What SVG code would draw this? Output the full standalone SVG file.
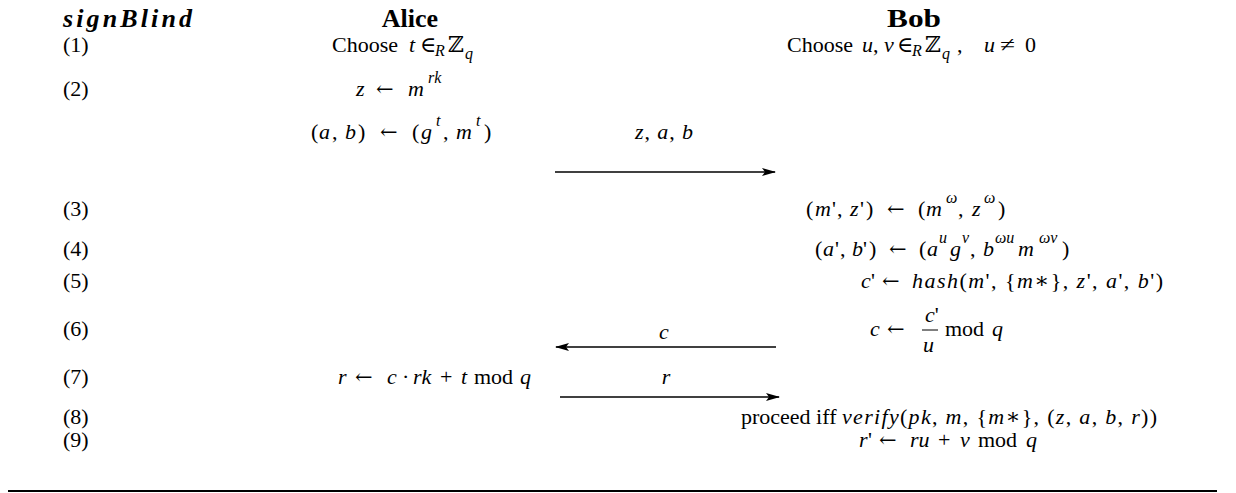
<svg xmlns="http://www.w3.org/2000/svg" width="1236" height="493" viewBox="0 0 1236 493">
<style>
text{font-family:"Liberation Serif","DejaVu Serif",serif;font-size:22px;fill:#000}
.h{font-size:26px;font-weight:bold}
.i{font-style:italic}
.s{font-size:16px}
.ar{font-family:"DejaVu Serif",serif;font-size:21px}
.z{font-family:"DejaVu Serif","Liberation Serif",serif;font-size:22px}
.ln{stroke:#000;stroke-width:1.3;fill:none}
</style>
<defs>
<marker id="ah" viewBox="0 0 14 8" refX="13" refY="4" markerWidth="14" markerHeight="8" markerUnits="userSpaceOnUse" orient="auto">
<path d="M0,0 L14,4 L0,8 L3,4 Z" fill="#000"/>
</marker>
</defs>
<g id="header">
<text class="h i" x="63" y="27" textLength="129" lengthAdjust="spacing">signBlind</text>
<text class="h" x="410" y="27" text-anchor="middle">Alice</text>
<text class="h" x="914" y="27" text-anchor="middle" textLength="54" lengthAdjust="spacingAndGlyphs">Bob</text>
</g>
<g id="labels">
<text x="63" y="52">(1)</text>
<text x="63" y="96">(2)</text>
<text x="63" y="216">(3)</text>
<text x="63" y="256">(4)</text>
<text x="63" y="288">(5)</text>
<text x="63" y="336">(6)</text>
<text x="63" y="384">(7)</text>
<text x="63" y="424">(8)</text>
<text x="63" y="447">(9)</text>
</g>
<g id="alice">
<text y="52"><tspan x="332">Choose</tspan><tspan class="i" x="409">t</tspan><tspan x="420">∈</tspan><tspan class="i s" x="435" y="56">R</tspan><tspan class="z" x="448" y="52">ℤ</tspan><tspan class="i s" x="465" y="59">q</tspan></text>
<text y="96"><tspan class="i" x="356">z</tspan><tspan class="ar" x="376">←</tspan><tspan class="i" x="408">m</tspan><tspan class="i s" x="428" y="83">rk</tspan></text>
<text y="139"><tspan x="311">(</tspan><tspan class="i" x="319">a</tspan><tspan x="332">,</tspan><tspan class="i" x="345">b</tspan><tspan x="358">)</tspan><tspan class="ar" x="380">←</tspan><tspan x="412">(</tspan><tspan class="i" x="421">g</tspan><tspan class="i s" x="436" y="126">t</tspan><tspan x="443" y="139">,</tspan><tspan class="i" x="456">m</tspan><tspan class="i s" x="476" y="126">t</tspan><tspan x="484" y="139">)</tspan></text>
<text y="384"><tspan class="i" x="338">r</tspan><tspan class="ar" x="355">←</tspan><tspan class="i" x="387">c</tspan><tspan x="402">·</tspan><tspan class="i" x="413">rk</tspan><tspan x="440">+</tspan><tspan class="i" x="461">t</tspan><tspan x="474">mod</tspan><tspan class="i" x="520">q</tspan></text>
</g>
<g id="bob">
<text y="52"><tspan x="787">Choose</tspan><tspan class="i" x="862">u</tspan><tspan x="873">,</tspan><tspan class="i" x="884">v</tspan><tspan x="897">∈</tspan><tspan class="i s" x="912" y="56">R</tspan><tspan class="z" x="925" y="52">ℤ</tspan><tspan class="i s" x="942" y="59">q</tspan><tspan x="957" y="52">,</tspan><tspan class="i" x="984">u</tspan><tspan x="1000" textLength="15" lengthAdjust="spacingAndGlyphs">≠</tspan><tspan x="1025">0</tspan></text>
<text y="216"><tspan x="806">(</tspan><tspan class="i" x="815">m</tspan><tspan x="832">'</tspan><tspan x="837">,</tspan><tspan class="i" x="850">z</tspan><tspan x="860">'</tspan><tspan x="866">)</tspan><tspan class="ar" x="887">←</tspan><tspan x="918">(</tspan><tspan class="i" x="926">m</tspan><tspan class="i s" x="946" y="203">ω</tspan><tspan x="958" y="216">,</tspan><tspan class="i" x="972">z</tspan><tspan class="i s" x="984" y="203">ω</tspan><tspan x="998" y="216">)</tspan></text>
<text y="256"><tspan x="815">(</tspan><tspan class="i" x="823">a</tspan><tspan x="835">'</tspan><tspan x="840">,</tspan><tspan class="i" x="852">b</tspan><tspan x="863">'</tspan><tspan x="869">)</tspan><tspan class="ar" x="889">←</tspan><tspan x="919">(</tspan><tspan class="i" x="927">a</tspan><tspan class="i s" x="939" y="243">u</tspan><tspan class="i" x="950" y="256">g</tspan><tspan class="i s" x="962" y="243">v</tspan><tspan x="970" y="256">,</tspan><tspan class="i" x="983">b</tspan><tspan class="i s" x="995" y="243">ωu</tspan><tspan class="i" x="1018" y="256">m</tspan><tspan class="i s" x="1039" y="243">ωv</tspan><tspan x="1062" y="256">)</tspan></text>
<text y="288"><tspan class="i" x="861">c</tspan><tspan x="871">'</tspan><tspan class="ar" x="882">←</tspan><tspan x="912" textLength="251" lengthAdjust="spacing"><tspan class="i">hash</tspan>(<tspan class="i">m</tspan>', {<tspan class="i">m</tspan>∗}, <tspan class="i">z</tspan>', <tspan class="i">a</tspan>', <tspan class="i">b</tspan>')</tspan></text>
<text y="336"><tspan class="i" x="870">c</tspan><tspan class="ar" x="887">←</tspan></text>
<text x="925" y="322"><tspan class="i">c</tspan>'</text>
<line x1="922" y1="330" x2="938" y2="330" stroke="#000" stroke-width="1"/>
<text x="923" y="352" class="i">u</text>
<text y="336"><tspan x="945">mod</tspan><tspan class="i" x="992">q</tspan></text>
<text y="424"><tspan x="741">proceed iff</tspan><tspan x="842" textLength="315" lengthAdjust="spacing"><tspan class="i">verify</tspan>(<tspan class="i">pk</tspan>, <tspan class="i">m</tspan>, {<tspan class="i">m</tspan>∗}, (<tspan class="i">z</tspan>, <tspan class="i">a</tspan>, <tspan class="i">b</tspan>, <tspan class="i">r</tspan>))</tspan></text>
<text y="447"><tspan class="i" x="859">r</tspan><tspan x="868">'</tspan><tspan class="ar" x="879">←</tspan><tspan class="i" x="910">ru</tspan><tspan x="938">+</tspan><tspan class="i" x="960">v</tspan><tspan x="978">mod</tspan><tspan class="i" x="1026">q</tspan></text>
</g>
<g id="connectors">
<line class="ln" x1="555" y1="172" x2="775" y2="172" marker-end="url(#ah)"/>
<text x="635" y="139" textLength="58" lengthAdjust="spacing"><tspan class="i">z</tspan>, <tspan class="i">a</tspan>, <tspan class="i">b</tspan></text>
<line class="ln" x1="776" y1="347" x2="556" y2="347" marker-end="url(#ah)"/>
<text x="664" y="339" text-anchor="middle" class="i">c</text>
<line class="ln" x1="560" y1="397" x2="779" y2="397" marker-end="url(#ah)"/>
<text x="666" y="384" text-anchor="middle" class="i">r</text>
</g>
<line x1="8" y1="491" x2="1217" y2="491" stroke="#000" stroke-width="2"/>
</svg>
